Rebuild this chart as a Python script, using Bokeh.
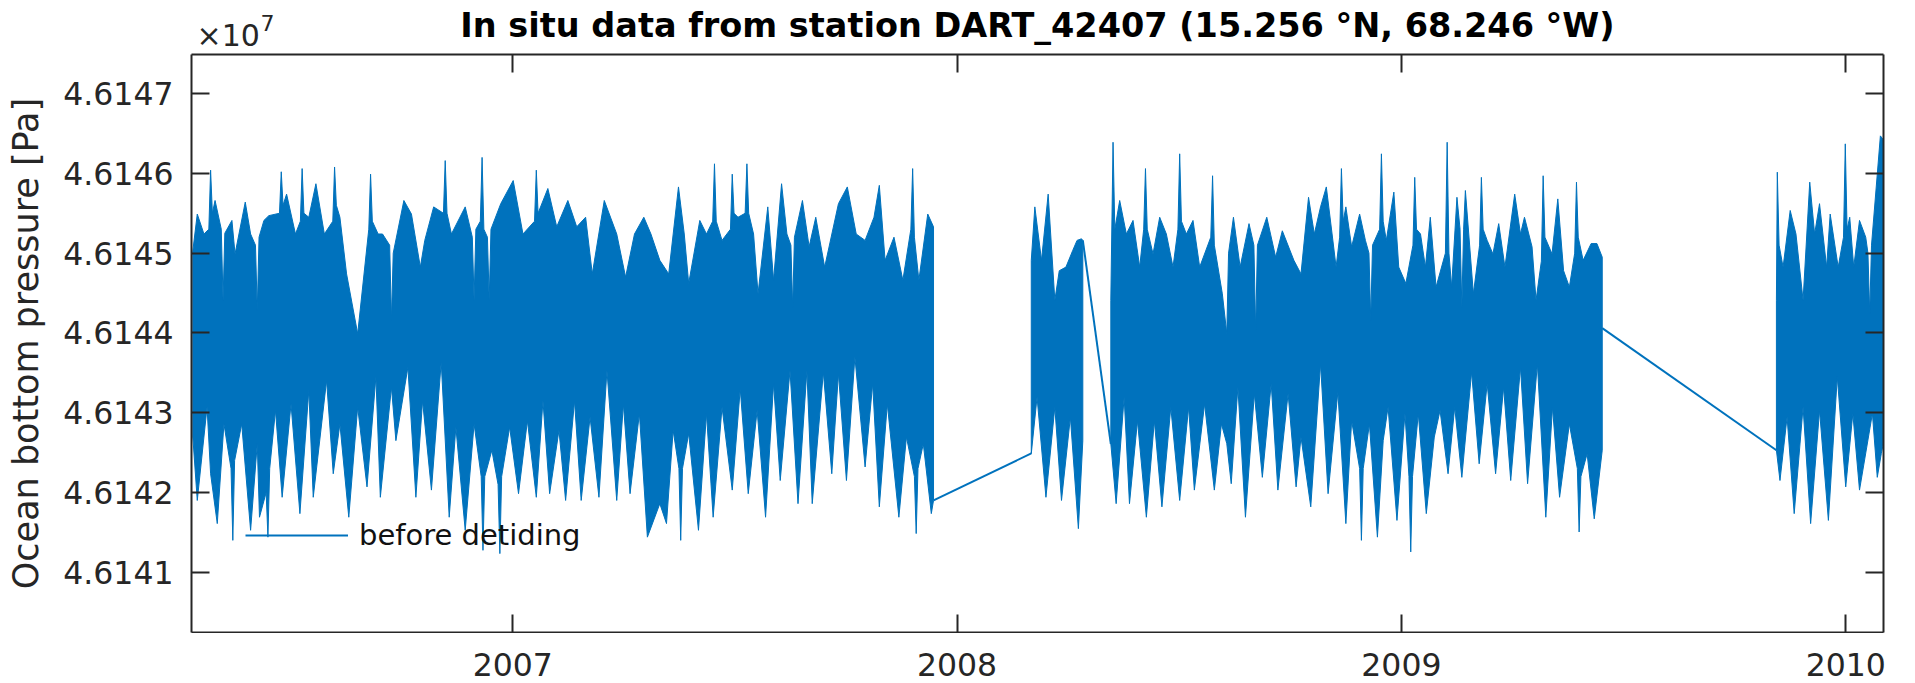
from bokeh.plotting import figure
from bokeh.layouts import column
from bokeh.models import (Plot, Range1d, LinearAxis, FixedTicker, CustomJSTickFormatter,
                          CustomLabelingPolicy, Label, Legend, LegendItem)
from bokeh.core.properties import value
from bokeh.embed import file_html
from bokeh.resources import INLINE

# ---- ocean bottom pressure (Pa) at DART 42407, envelope of the tidal signal ----
# time in decimal years; upper edge as (time, pressure) pairs, lower edge as two lists

seg1_up = [(2006.280, 46145030), (2006.290, 46145490), (2006.305, 46145240), (2006.316, 46145300),
           (2006.320, 46146040), (2006.324, 46145500), (2006.330, 46145660), (2006.344, 46145300),
           (2006.348, 46144410), (2006.352, 46145250), (2006.368, 46145410), (2006.375, 46144990),
           (2006.398, 46145640), (2006.410, 46145240), (2006.421, 46145100), (2006.425, 46144280),
           (2006.429, 46145200), (2006.440, 46145410), (2006.451, 46145470), (2006.475, 46145500),
           (2006.479, 46146020), (2006.483, 46145600), (2006.491, 46145740), (2006.511, 46145240),
           (2006.522, 46145400), (2006.526, 46146060), (2006.530, 46145500), (2006.541, 46145450),
           (2006.557, 46145870), (2006.576, 46145240), (2006.595, 46145400), (2006.599, 46146080),
           (2006.603, 46145600), (2006.611, 46145450), (2006.626, 46144740), (2006.651, 46143990),
           (2006.676, 46145300), (2006.680, 46145990), (2006.684, 46145400), (2006.697, 46145240),
           (2006.707, 46145240), (2006.723, 46145100), (2006.727, 46144160), (2006.731, 46145000),
           (2006.755, 46145660), (2006.772, 46145490), (2006.792, 46144825), (2006.802, 46145160),
           (2006.822, 46145580), (2006.844, 46145500), (2006.848, 46146160), (2006.852, 46145500),
           (2006.862, 46145240), (2006.893, 46145580), (2006.909, 46145200), (2006.913, 46144410),
           (2006.917, 46145300), (2006.927, 46145400), (2006.931, 46146200), (2006.935, 46145300),
           (2006.943, 46145200), (2006.947, 46144410), (2006.951, 46145300), (2006.973, 46145620),
           (2007.001, 46145910), (2007.023, 46145240), (2007.049, 46145400), (2007.053, 46146040),
           (2007.057, 46145500), (2007.079, 46145810), (2007.099, 46145330), (2007.124, 46145660),
           (2007.144, 46145330), (2007.164, 46145450), (2007.179, 46144740), (2007.206, 46145660),
           (2007.234, 46145240), (2007.254, 46144700), (2007.274, 46145240), (2007.295, 46145450),
           (2007.311, 46145240), (2007.331, 46144910), (2007.351, 46144740), (2007.373, 46145830),
           (2007.386, 46145240), (2007.396, 46144620), (2007.421, 46145410), (2007.436, 46145240),
           (2007.450, 46145400), (2007.454, 46146120), (2007.458, 46145400), (2007.471, 46145160),
           (2007.490, 46145300), (2007.494, 46145990), (2007.498, 46145500), (2007.507, 46145450),
           (2007.523, 46145500), (2007.527, 46146120), (2007.531, 46145500), (2007.542, 46145240),
           (2007.552, 46144490), (2007.574, 46145580), (2007.587, 46144660), (2007.605, 46145870),
           (2007.617, 46145240), (2007.626, 46145100), (2007.630, 46144320), (2007.634, 46145200),
           (2007.652, 46145660), (2007.667, 46145080), (2007.682, 46145450), (2007.702, 46144825),
           (2007.733, 46145620), (2007.753, 46145830), (2007.773, 46145240), (2007.793, 46145160),
           (2007.813, 46145450), (2007.825, 46145850), (2007.838, 46144910), (2007.858, 46145200),
           (2007.878, 46144660), (2007.896, 46145300), (2007.900, 46146060), (2007.904, 46145200),
           (2007.914, 46144660), (2007.934, 46145490), (2007.947, 46145330)]
seg1_lo_t = [2006.280, 2006.290, 2006.312, 2006.320, 2006.335, 2006.350, 2006.366, 2006.370,
             2006.374, 2006.390, 2006.410, 2006.425, 2006.430, 2006.445, 2006.449, 2006.453,
             2006.466, 2006.481, 2006.501, 2006.521, 2006.541, 2006.551, 2006.581, 2006.596,
             2006.611, 2006.631, 2006.651, 2006.672, 2006.692, 2006.702, 2006.727, 2006.737,
             2006.764, 2006.782, 2006.797, 2006.817, 2006.839, 2006.857, 2006.872, 2006.893,
             2006.913, 2006.929, 2006.933, 2006.937, 2006.953, 2006.967, 2006.971, 2006.975,
             2006.993, 2007.013, 2007.033, 2007.053, 2007.068, 2007.083, 2007.104, 2007.119,
             2007.139, 2007.154, 2007.174, 2007.194, 2007.212, 2007.234, 2007.249, 2007.264,
             2007.285, 2007.303, 2007.331, 2007.346, 2007.361, 2007.374, 2007.378, 2007.382,
             2007.396, 2007.418, 2007.436, 2007.451, 2007.471, 2007.494, 2007.512, 2007.530,
             2007.550, 2007.569, 2007.587, 2007.602, 2007.624, 2007.642, 2007.662, 2007.674,
             2007.699, 2007.718, 2007.733, 2007.751, 2007.770, 2007.793, 2007.810, 2007.825,
             2007.843, 2007.869, 2007.886, 2007.904, 2007.908, 2007.912, 2007.924, 2007.942,
             2007.947]
seg1_lo_p = [46142695, 46141900, 46143070, 46142235, 46141610, 46142860, 46142300, 46141400,
             46142400, 46142860, 46141526, 46142610, 46141690, 46142000, 46141440, 46142300,
             46143030, 46141940, 46143110, 46141735, 46143280, 46141940, 46143405, 46142235,
             46142860, 46141690, 46143070, 46142070, 46143450, 46141940, 46143320, 46142650,
             46143570, 46141940, 46143150, 46142030, 46143635, 46141690, 46142820, 46141526,
             46142860, 46142200, 46141275, 46142200, 46142530, 46142100, 46141234, 46142200,
             46142820, 46141985, 46142900, 46141940, 46143150, 46141985, 46142780, 46141900,
             46143150, 46141900, 46142945, 46141940, 46143530, 46141900, 46143110, 46141985,
             46142990, 46141440, 46141860, 46141610, 46142780, 46142300, 46141400, 46142300,
             46142740, 46141526, 46142990, 46141690, 46143070, 46142030, 46143300, 46141985,
             46143030, 46141690, 46143365, 46142150, 46143530, 46141860, 46143530, 46141860,
             46143510, 46142235, 46143490, 46142150, 46143700, 46142320, 46143365, 46141820,
             46143110, 46141690, 46142695, 46142200, 46141485, 46142300, 46142610, 46141735,
             46141900]

seg2_up = [(2008.167, 46144910), (2008.175, 46145580), (2008.190, 46144910), (2008.205, 46145740),
           (2008.220, 46144410), (2008.230, 46144780), (2008.245, 46144825), (2008.260, 46145030),
           (2008.270, 46145160), (2008.280, 46145180), (2008.283, 46145160)]
seg2_lo_t = [2008.167, 2008.180, 2008.200, 2008.220, 2008.235, 2008.255, 2008.273, 2008.283]
seg2_lo_p = [46142486, 46143196, 46141940, 46143070, 46141900, 46142945, 46141547, 46142650]

seg3_up = [(2008.346, 46144410), (2008.351, 46146390), (2008.355, 46145300), (2008.366, 46145660),
           (2008.381, 46145240), (2008.396, 46145410), (2008.411, 46144825), (2008.420, 46145300),
           (2008.424, 46146060), (2008.428, 46145300), (2008.441, 46144990), (2008.456, 46145450),
           (2008.471, 46145240), (2008.486, 46144825), (2008.497, 46145300), (2008.501, 46146245),
           (2008.505, 46145400), (2008.516, 46145240), (2008.531, 46145410), (2008.546, 46144825),
           (2008.571, 46145200), (2008.575, 46145970), (2008.579, 46145100), (2008.597, 46144490),
           (2008.607, 46143990), (2008.611, 46145000), (2008.622, 46145450), (2008.637, 46144825),
           (2008.657, 46145370), (2008.668, 46145100), (2008.672, 46144030), (2008.676, 46145100),
           (2008.697, 46145450), (2008.717, 46144950), (2008.732, 46145280), (2008.758, 46144910),
           (2008.774, 46144740), (2008.791, 46145700), (2008.804, 46145240), (2008.818, 46145580),
           (2008.831, 46145830), (2008.844, 46145240), (2008.853, 46144825), (2008.861, 46145200),
           (2008.865, 46146060), (2008.869, 46145400), (2008.875, 46145580), (2008.888, 46145080),
           (2008.906, 46145490), (2008.919, 46145160), (2008.927, 46145000), (2008.931, 46144160),
           (2008.935, 46145100), (2008.951, 46145300), (2008.955, 46146245), (2008.959, 46145400),
           (2008.966, 46145160), (2008.983, 46145765), (2008.994, 46144825), (2009.010, 46144620),
           (2009.026, 46145100), (2009.030, 46145950), (2009.034, 46145300), (2009.043, 46145240),
           (2009.054, 46144825), (2009.065, 46145450), (2009.078, 46144575), (2009.099, 46145000),
           (2009.103, 46146390), (2009.107, 46145000), (2009.113, 46144575), (2009.125, 46145700),
           (2009.132, 46145300), (2009.136, 46144320), (2009.140, 46145300), (2009.144, 46145785),
           (2009.162, 46144490), (2009.176, 46145100), (2009.180, 46145950), (2009.184, 46145300),
           (2009.193, 46145160), (2009.206, 46144990), (2009.219, 46145370), (2009.233, 46144825),
           (2009.255, 46145740), (2009.268, 46145240), (2009.277, 46145450), (2009.294, 46145080),
           (2009.303, 46144410), (2009.315, 46144900), (2009.319, 46145970), (2009.323, 46145200),
           (2009.339, 46144990), (2009.352, 46145680), (2009.365, 46144780), (2009.378, 46144575),
           (2009.390, 46145000), (2009.394, 46145890), (2009.398, 46145200), (2009.409, 46144910),
           (2009.427, 46145120), (2009.440, 46145120), (2009.452, 46144950)]
seg3_lo_t = [2008.346, 2008.358, 2008.376, 2008.388, 2008.406, 2008.426, 2008.444, 2008.461,
             2008.481, 2008.501, 2008.521, 2008.534, 2008.557, 2008.579, 2008.595, 2008.607,
             2008.617, 2008.632, 2008.649, 2008.669, 2008.687, 2008.707, 2008.722, 2008.745,
             2008.763, 2008.774, 2008.796, 2008.818, 2008.835, 2008.857, 2008.875, 2008.888,
             2008.906, 2008.910, 2008.914, 2008.928, 2008.946, 2008.959, 2008.970, 2008.990,
             2009.008, 2009.017, 2009.021, 2009.025, 2009.038, 2009.056, 2009.074, 2009.087,
             2009.105, 2009.120, 2009.136, 2009.158, 2009.175, 2009.193, 2009.212, 2009.230,
             2009.246, 2009.268, 2009.284, 2009.306, 2009.325, 2009.340, 2009.356, 2009.378,
             2009.396, 2009.400, 2009.404, 2009.418, 2009.434, 2009.452]
seg3_lo_p = [46142612, 46141860, 46143196, 46141860, 46142900, 46141690, 46142900, 46141820,
             46143070, 46141900, 46143070, 46142030, 46143110, 46142030, 46142860, 46142612,
             46142110, 46143320, 46141690, 46143240, 46142190, 46143365, 46142030, 46143240,
             46142070, 46142695, 46141820, 46143614, 46141985, 46143260, 46141610, 46142900,
             46142300, 46141400, 46142300, 46142860, 46141440, 46142650, 46143070, 46141650,
             46142990, 46142200, 46141255, 46142200, 46142990, 46141735, 46142695, 46143030,
             46142235, 46143070, 46142190, 46143510, 46142360, 46143365, 46142235, 46143320,
             46142150, 46143570, 46142110, 46143614, 46141690, 46143070, 46141940, 46142860,
             46142300, 46141505, 46142200, 46142486, 46141670, 46142530]

seg4_up = [(2009.844, 46144410), (2009.846, 46146015), (2009.850, 46145100), (2009.859, 46144825),
           (2009.875, 46145535), (2009.888, 46145240), (2009.904, 46144410), (2009.919, 46145890),
           (2009.930, 46145240), (2009.941, 46145620), (2009.957, 46144825), (2009.965, 46145490),
           (2009.983, 46144825), (2009.995, 46145200), (2009.999, 46146370), (2010.003, 46145300),
           (2010.009, 46145450), (2010.018, 46144825), (2010.031, 46145410), (2010.045, 46145200),
           (2010.050, 46145000), (2010.054, 46144240), (2010.058, 46145100), (2010.071, 46145990),
           (2010.078, 46146470), (2010.086, 46146410)]
seg4_lo_t = [2009.844, 2009.852, 2009.868, 2009.884, 2009.904, 2009.921, 2009.941, 2009.961,
             2009.981, 2010.000, 2010.016, 2010.031, 2010.060, 2010.071, 2010.080, 2010.086]
seg4_lo_p = [46142530, 46142150, 46142945, 46141735, 46143070, 46141610, 46143030, 46141650,
             46143450, 46142070, 46142990, 46142030, 46142990, 46142190, 46142486, 46142650]

# straight stretches of the record across the data gaps
link_t = [[2007.947, 2008.167], [2008.283, 2008.346], [2009.452, 2009.844]]
link_p = [[46141900, 46142490], [46145160, 46142610], [46144060, 46142530]]

year_ticks = [2007, 2008, 2009, 2010]
year_labels = ["2007", "2008", "2009", "2010"]
pressure_ticks = [46141000, 46142000, 46143000, 46144000, 46145000, 46146000, 46147000]

BLUE = "#0072BD"
INK = "#262626"
FONT = "DejaVu Sans"
W = 1915
LEFT, RIGHT = 191, 32
X0, X1 = 2006.277, 2010.085
CAN_UNALIGN = "frame_align" in Plot.properties()


def bare(height, **kw):
    f = figure(width=W, height=height, output_backend="svg", toolbar_location=None,
               title=None, x_axis_location=None, y_axis_location=None, **kw)
    f.outline_line_color = None
    f.background_fill_color = "white"
    f.border_fill_color = "white"
    f.xgrid.visible = False
    f.ygrid.visible = False
    if CAN_UNALIGN:
        f.frame_align = False
    return f


frame_w = W - LEFT - RIGHT

# ---- header: title and the common exponent of the pressure axis ----
if CAN_UNALIGN:
    head = bare(53, min_border=0, x_range=Range1d(0, W), y_range=Range1d(0, 53))
    hx = 0
else:
    head = bare(53, min_border_left=LEFT, min_border_right=RIGHT, min_border_top=0,
                min_border_bottom=0, x_range=Range1d(0, frame_w), y_range=Range1d(0, 53))
    hx = -LEFT
head.add_layout(Label(x=hx + 1037, y=28, x_units="screen", y_units="screen",
                      text="In situ data from station DART_42407 (15.256 °N, 68.246 °W)",
                      text_align="center", text_baseline="middle", text_font=FONT,
                      text_font_style="bold", text_font_size="33.5px", text_color="black"))
head.add_layout(Label(x=hx + 196, y=18.5, x_units="screen", y_units="screen", text="×10",
                      text_baseline="middle", text_font=FONT, text_font_size="30px",
                      text_color=INK))
head.add_layout(Label(x=hx + 260, y=31, x_units="screen", y_units="screen", text="7",
                      text_baseline="middle", text_font=FONT, text_font_size="22px",
                      text_color=INK))

# ---- main axes ----
segments = [(seg1_up, seg1_lo_t, seg1_lo_p), (seg2_up, seg2_lo_t, seg2_lo_p),
            (seg3_up, seg3_lo_t, seg3_lo_p), (seg4_up, seg4_lo_t, seg4_lo_p)]
band_xs = [[t for t, _ in up] + lt[::-1] for up, lt, lp in segments]
band_ys = [[v for _, v in up] + lp[::-1] for up, lt, lp in segments]

p = bare(580, x_range=Range1d(X0, X1), y_range=Range1d(46140245, 46147490),
         min_border_left=LEFT, min_border_right=RIGHT, min_border_top=1, min_border_bottom=1)

p.patches(band_xs, band_ys, fill_color=BLUE, line_color=BLUE, line_width=1)
links = p.multi_line(link_t, link_p, line_color=BLUE, line_width=2)

no_labels = CustomLabelingPolicy(
    code="for (const i of Array.from(indices)) { indices.unset(i) } return indices")


def make_axis(ticks, show_labels):
    ax = LinearAxis(ticker=FixedTicker(ticks=ticks))
    ax.axis_line_color = INK
    ax.axis_line_width = 2
    ax.major_tick_line_color = INK
    ax.major_tick_line_width = 2
    ax.major_tick_in = 18
    ax.major_tick_out = 0
    ax.minor_tick_in = 0
    ax.minor_tick_out = 0
    ax.major_label_text_font = FONT
    ax.major_label_text_color = INK
    if show_labels:
        ax.major_label_text_font_size = "31.5px"
    else:
        ax.major_label_text_font_size = "0px"
        ax.major_label_standoff = 0
        ax.major_label_policy = no_labels
    return ax


left = make_axis(pressure_ticks, True)
left.formatter = CustomJSTickFormatter(code="return (tick / 1e7).toFixed(4);")
left.major_label_standoff = 18
left.axis_label = "Ocean bottom pressure [Pa]"
left.axis_label_text_font = FONT
left.axis_label_text_font_style = "normal"
left.axis_label_text_font_size = "35px"
left.axis_label_text_color = INK
left.axis_label_standoff = 14
p.add_layout(left, "left")
p.add_layout(make_axis(pressure_ticks, False), "right")
p.add_layout(make_axis(year_ticks, False), "below")
p.add_layout(make_axis(year_ticks, False), "above")

legend = Legend(items=[LegendItem(label="before detiding", renderers=[links])],
                location=(54, 80), orientation="vertical")
legend.background_fill_alpha = 0
legend.border_line_alpha = 0
legend.padding = 0
legend.margin = 0
legend.spacing = 0
legend.glyph_width = 103
legend.glyph_height = 34
legend.label_standoff = 11
legend.label_text_font = FONT
legend.label_text_font_size = "29px"
legend.label_text_color = "#111111"
legend.label_height = 34
p.add_layout(legend, "center")

# ---- footer: year labels under the time axis, on the same time scale ----
if CAN_UNALIGN:
    foot = bare(50, min_border_left=LEFT, min_border_right=0, min_border_top=0,
                min_border_bottom=0, y_range=Range1d(0, 50),
                x_range=Range1d(X0, X1 + (X1 - X0) * RIGHT / frame_w))
else:
    foot = bare(50, min_border_left=LEFT, min_border_right=RIGHT, min_border_top=0,
                min_border_bottom=0, y_range=Range1d(0, 50), x_range=p.x_range)
foot.text(x=year_ticks, y=[19.5] * len(year_ticks), text=year_labels, text_align="center",
          text_baseline="middle", text_font=value(FONT), text_font_size="31.5px",
          text_color=INK)

page = column(head, p, foot, spacing=0)
open("out.html", "w").write(file_html(page, INLINE))
